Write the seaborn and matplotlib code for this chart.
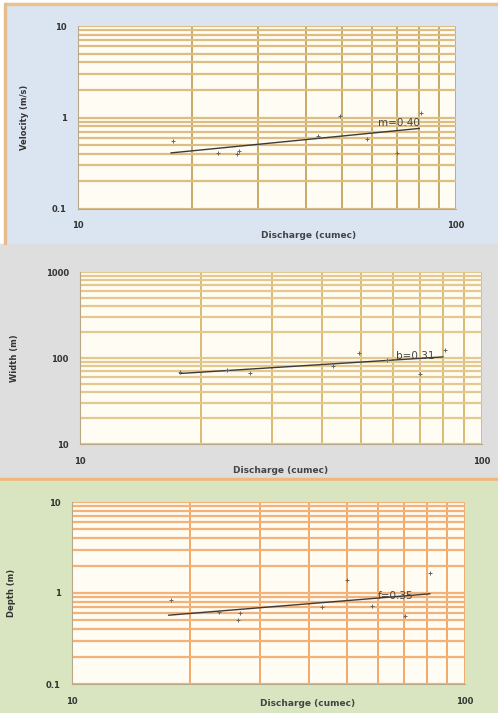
import numpy as np
import pandas as pd
import matplotlib
matplotlib.use("Agg")
import matplotlib.pyplot as plt
from matplotlib.patches import Rectangle
from matplotlib.ticker import LogLocator, NullFormatter, FixedLocator, FixedFormatter
import seaborn as sns

# Velocity panel
vel_q = [17.8, 23.5, 26.4, 26.6, 43.2, 49.3, 58.0, 69.7, 80.7]
vel_v = [0.56, 0.41, 0.40, 0.43, 0.63, 1.04, 0.58, 0.41, 1.13]
vel_fit_q = [17.6, 80.0]
vel_fit_v = [0.41, 0.76]
vel_label = "m=0.40"

# Width panel
wid_q = [17.7, 23.2, 26.5, 42.7, 49.3, 57.9, 70.1, 81.0]
wid_w = [68.0, 72.0, 67.0, 80.0, 115.0, 96.0, 65.0, 125.0]
wid_fit_q = [17.7, 80.0]
wid_fit_w = [66.0, 103.0]
wid_label = "b=0.31"

# Depth panel
dep_q = [17.9, 23.6, 26.8, 26.5, 43.2, 50.0, 57.9, 70.4, 81.5]
dep_d = [0.84, 0.62, 0.60, 0.50, 0.71, 1.39, 0.72, 0.56, 1.67]
dep_fit_q = [17.6, 81.5]
dep_fit_d = [0.57, 0.98]
dep_label = "f=0.35"

W, H = 498, 713
sns.set_style("white")
plt.rcParams['font.family'] = ['DejaVu Sans']
fig = plt.figure(figsize=(W / 100, H / 100), dpi=100)


def px_rect(x0, y0, x1, y1, color):
    fig.patches.append(Rectangle((x0 / W, 1 - y1 / H), (x1 - x0) / W, (y1 - y0) / H,
                                 transform=fig.transFigure, color=color, zorder=-10))


# panel backgrounds
px_rect(5, 3, 498, 244, "#dbe5f1")
px_rect(0, 244, 498, 478, "#dedede")
px_rect(0, 478, 498, 481, "#f0b878")
px_rect(0, 481, 498, 713, "#d9e5c1")
px_rect(5, 3, 498, 5, "#e9c28e")
px_rect(4, 3, 6, 244, "#e6bd8a")


def panel(box, q, y, fq, fy, ylim, ylabel, label, label_xy,
          vcol, hcol, xlab_x, ylab_x, xlab_y):
    x0, y0, x1, y1 = box
    ax = fig.add_axes([x0 / W, 1 - y1 / H, (x1 - x0) / W, (y1 - y0) / H])
    ax.set_facecolor("#fffcf3")
    ax.set_xscale("log")
    ax.set_yscale("log")
    ax.set_xlim(10, 100)
    ax.set_ylim(*ylim)

    df = pd.DataFrame({"q": q, "y": y})
    fit = pd.DataFrame({"q": fq, "y": fy})
    sns.scatterplot(data=df, x="q", y="y", ax=ax, marker="+", s=9,
                    color="#666666", linewidth=0.7, zorder=4)
    sns.lineplot(data=fit, x="q", y="y", ax=ax, color="#3a3a3a",
                 linewidth=1.0, zorder=3)

    ax.xaxis.set_minor_locator(LogLocator(base=10, subs=np.arange(2, 10)))
    ax.yaxis.set_minor_locator(LogLocator(base=10, subs=np.arange(2, 10)))
    ax.xaxis.set_minor_formatter(NullFormatter())
    ax.yaxis.set_minor_formatter(NullFormatter())
    ax.grid(True, which="both", axis="x", color=vcol, linewidth=1.3, zorder=1)
    ax.grid(True, which="both", axis="y", color=hcol, linewidth=1.6, zorder=1)
    ax.set_axisbelow(True)

    lo, hi = ylim
    yt = [lo, np.sqrt(lo * hi), hi]
    ax.yaxis.set_major_locator(FixedLocator(yt))
    ax.yaxis.set_major_formatter(FixedFormatter([f"{v:g}" for v in yt]))
    ax.xaxis.set_major_locator(FixedLocator([10, 100]))
    ax.xaxis.set_major_formatter(FixedFormatter(["10", "100"]))
    ax.tick_params(axis="y", which="major", labelsize=6, colors="#333333",
                   length=3, width=0.6, pad=5)
    ax.tick_params(axis="x", which="major", labelsize=6, colors="#333333",
                   length=0, pad=9)
    ax.tick_params(axis="both", which="minor", length=0)
    for t in ax.get_xticklabels() + ax.get_yticklabels():
        t.set_fontweight("bold")

    for s in ["top", "right"]:
        ax.spines[s].set_visible(False)
    for s in ["left", "bottom"]:
        ax.spines[s].set_color("#b8a888")
        ax.spines[s].set_linewidth(0.8)

    ax.set_xlabel("Discharge (cumec)", fontsize=6.5, fontweight="bold", color="#444444")
    ax.set_ylabel(ylabel, fontsize=6, fontweight="bold", color="#333333")
    ax.xaxis.set_label_coords(xlab_x, xlab_y)
    ax.yaxis.set_label_coords(ylab_x, 0.5)
    ax.text(label_xy[0], label_xy[1], label, fontsize=7.5, color="#444444",
            ha="left", va="center", zorder=5)
    return ax


panel((78, 26, 456, 209), vel_q, vel_v, vel_fit_q, vel_fit_v, (0.1, 10),
      "Velocity (m/s)", vel_label, (62, 0.87), "#c4a45c", "#dcbd84",
      0.61, -0.13, -0.12)
panel((80, 272, 482, 444), wid_q, wid_w, wid_fit_q, wid_fit_w, (10, 1000),
      "Width (m)", wid_label, (61, 105), "#d9b56a", "#e3c890",
      0.5, -0.152, -0.13)
panel((72, 502, 465, 684), dep_q, dep_d, dep_fit_q, dep_fit_d, (0.1, 10),
      "Depth (m)", dep_label, (60, 0.92), "#f0a45e", "#f2b27a",
      0.6, -0.142, -0.085)

fig.savefig("out.png", dpi=100)
